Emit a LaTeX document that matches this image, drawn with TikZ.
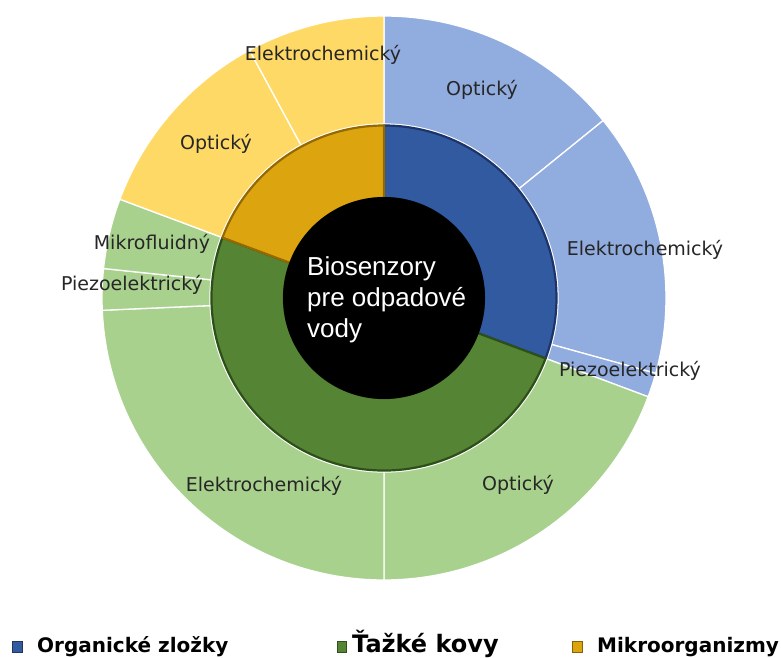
\documentclass[tikz,border=0pt]{standalone}
\usepackage{fontspec}
\setmainfont{DejaVu Sans}
\newfontfamily\arialf{Liberation Sans}
\definecolor{oblue}{RGB}{145,172,222}
\definecolor{iblue}{RGB}{50,90,160}
\definecolor{dblue}{RGB}{28,52,105}
\definecolor{ogreen}{RGB}{169,209,142}
\definecolor{igreen}{RGB}{84,132,52}
\definecolor{dgreen}{RGB}{45,80,25}
\definecolor{oyellow}{RGB}{255,217,102}
\definecolor{iyellow}{RGB}{220,165,15}
\definecolor{dyellow}{RGB}{150,105,0}
\newcommand\ringseg[5]{%
  \path[#1] (#2:#4pt) -- (#2:#5pt) arc[start angle=#2, end angle=#3, radius=#5pt]
    -- (#3:#4pt) arc[start angle=#3, end angle=#2, radius=#4pt] -- cycle;}
\tikzset{
  outerseg/.style={fill=#1, draw=white, line width=1.3pt, line join=round},
  innerseg/.style 2 args={fill=#1, draw=#2, line width=2.2pt, line join=round},
  lbl/.style={font=\fontsize{19}{21}\selectfont, text=black!85, inner sep=0pt},
  legtext/.style={font=\bfseries\fontsize{20}{22}\selectfont, text=black, inner sep=0pt, anchor=base west},
  legbox/.style={draw=#1!60!black, fill=#1, line width=0.4pt}
}
\begin{document}
\begin{tikzpicture}[x=1pt,y=1pt]
\useasboundingbox (0,0) rectangle (781,657);
\fill[white] (0,0) rectangle (781,657);
\begin{scope}[shift={(384,359)}]
  % outer ring
  \ringseg{outerseg=oblue}{90}{39}{174}{282}
  \ringseg{outerseg=oblue}{39}{-15.5}{174}{282}
  \ringseg{outerseg=oblue}{-15.5}{-20.5}{174}{282}
  \ringseg{outerseg=ogreen}{-20.5}{-90}{174}{282}
  \ringseg{outerseg=ogreen}{-90}{-177.5}{174}{282}
  \ringseg{outerseg=ogreen}{-177.5}{-186}{174}{282}
  \ringseg{outerseg=ogreen}{-186}{-200.5}{174}{282}
  \ringseg{outerseg=oyellow}{159.5}{118.5}{174}{282}
  \ringseg{outerseg=oyellow}{118.5}{90}{174}{282}
  % inner ring
  \ringseg{innerseg={iblue}{dblue}}{90}{-20.5}{100}{172.5}
  \ringseg{innerseg={igreen}{dgreen}}{-20.5}{-200.5}{100}{172.5}
  \ringseg{innerseg={iyellow}{dyellow}}{159.5}{90}{100}{172.5}
  % centre
  \fill[black] (0,0) circle[radius=101pt];
\end{scope}
\node[anchor=west, align=left, text=white, inner sep=0pt,
      font=\arialf\fontsize{26}{31}\selectfont] (title) at (307,357)
  {Biosenzory\\pre odpadové\\vody};
% labels
\node[lbl] (ye) at (323,602) {Elektrochemický};
\node[lbl] (bo) at (482,567) {Optický};
\node[lbl] (yo) at (216,513) {Optický};
\node[lbl] (be) at (645,407) {Elektrochemický};
\node[lbl] (gm) at (152,413) {Mikrofluidný};
\node[lbl] (gp) at (132,372) {Piezoelektrický};
\node[lbl] (bp) at (630,286) {Piezoelektrický};
\node[lbl] (ge) at (264,171) {Elektrochemický};
\node[lbl] (go) at (518,172) {Optický};
% legend
\draw[legbox=iblue] (12,5) rectangle (22,16);
\node[legtext] (l1) at (37,5) {Organické zložky};
\draw[legbox=igreen] (337,5) rectangle (346,16);
\node[legtext, font=\bfseries\fontsize{24}{26}\selectfont] (l2) at (352,5) {Ťažké kovy};
\draw[legbox=iyellow] (572,5) rectangle (582,16);
\node[legtext] (l3) at (597,5) {Mikroorganizmy};
\end{tikzpicture}
\end{document}
